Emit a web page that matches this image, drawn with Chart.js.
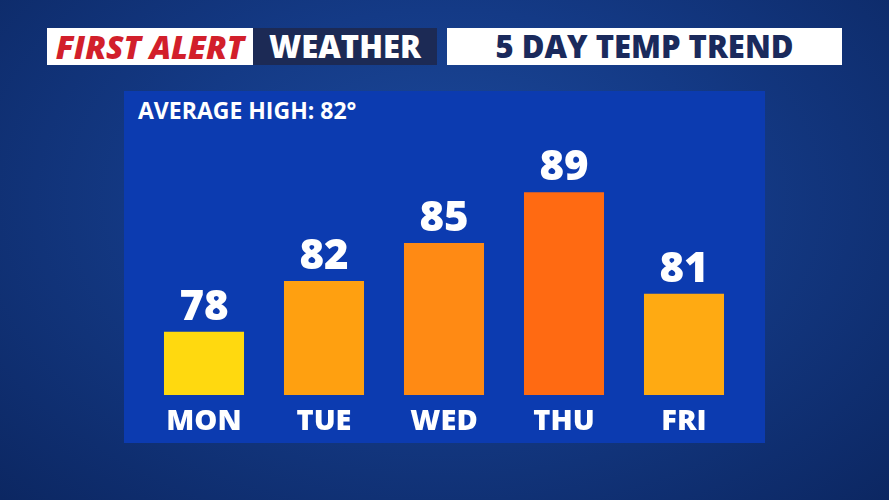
<!DOCTYPE html>
<html>
<head>
<meta charset="utf-8">
<script src="https://cdn.jsdelivr.net/npm/chart.js@4/dist/chart.umd.min.js"></script>
<style>
  body { margin: 0; width: 889px; height: 500px; overflow: hidden; font-family: "Open Sans", sans-serif;
         background: radial-gradient(ellipse at 50% 40%, #1d4a9c 0%, #143a86 45%, #0c2762 100%); position: relative; }
  .hdr { position: absolute; top: 28px; height: 37px; line-height: 37px; font-weight: 800; font-size: 31px; box-sizing: border-box; }
  #h1 { left: 47px; width: 206px; background: #fff; color: #d21f2b; font-style: italic; text-align: center; letter-spacing: 0px; font-size: 32px; }
  #h2 { left: 253px; width: 184px; background: #1c2a55; color: #fff; text-align: center; }
  #h3 { left: 447px; width: 395px; background: #fff; color: #1a2a5c; text-align: center; }
  #panel { position: absolute; left: 124px; top: 91px; width: 641px; height: 352px; background: #0c3bb0; }
  #avg { position: absolute; left: 14px; top: 3px; color: #fff; font-weight: 700; font-size: 23px; }
  #wrap { position: absolute; left: 0; top: 0; width: 641px; height: 352px; }
</style>
</head>
<body>
<div class="hdr" id="h1">FIRST ALERT</div>
<div class="hdr" id="h2">WEATHER</div>
<div class="hdr" id="h3">5 DAY TEMP TREND</div>
<div id="panel">
  <div id="avg">AVERAGE HIGH: 82°</div>
  <div id="wrap"><canvas id="c"></canvas></div>
</div>
<script>
// Datos
const days = ['MON', 'TUE', 'WED', 'THU', 'FRI'];
const highs = [78, 82, 85, 89, 81];
const barColors = ['#ffd90f', '#ffa010', '#ff8a14', '#ff6a12', '#ffaa12'];

// Etiquetas de valor encima de cada barra
const valueLabels = {
    id: 'valueLabels',
    afterDatasetsDraw(chart) {
        const ctx = chart.ctx;
        const meta = chart.getDatasetMeta(0);
        ctx.save();
        ctx.fillStyle = '#fff';
        ctx.font = '800 42px "Open Sans"';
        ctx.textAlign = 'center';
        ctx.textBaseline = 'bottom';
        meta.data.forEach((bar, i) => {
            ctx.fillText(highs[i], bar.x, bar.y - 3);
        });
        ctx.restore();
    }
};

new Chart(document.getElementById('c'), {
    type: 'bar',
    data: {
        labels: days,
        datasets: [{
            data: highs,
            backgroundColor: barColors,
            borderWidth: 0,
            barPercentage: 0.667,
            categoryPercentage: 1
        }]
    },
    options: {
        responsive: true,
        maintainAspectRatio: false,
        animation: false,
        layout: { padding: { left: 20, right: 21, top: 38, bottom: 0 } },
        plugins: { legend: { display: false }, tooltip: { enabled: false } },
        scales: {
            x: {
                grid: { display: false },
                border: { display: false },
                ticks: { color: '#fff', font: { family: 'Open Sans', weight: '800', size: 29 }, padding: 1 },
                afterFit(scale) { scale.height = 48; }
            },
            y: { display: false, min: 73, max: 94 }
        }
    },
    plugins: [valueLabels]
});
</script>
</body>
</html>
